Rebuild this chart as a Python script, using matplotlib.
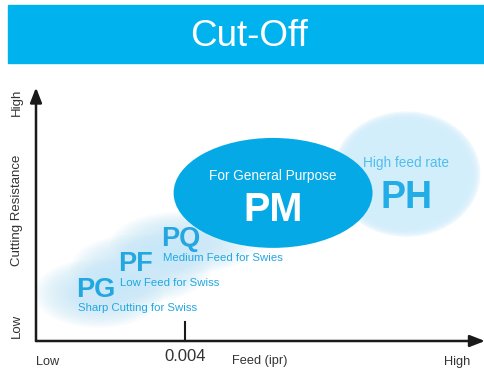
import numpy as np
import matplotlib
matplotlib.use('Agg')
import matplotlib.pyplot as plt
from matplotlib.patches import Ellipse, Rectangle

plt.rcParams['font.family'] = ['Liberation Sans', 'DejaVu Sans']

# grade regions: feed (x) / cutting resistance (y), both 0..1 on the chart
grades = ['PG', 'PF', 'PQ', 'PM', 'PH']
descs = ['Sharp Cutting for Swiss', 'Low Feed for Swiss', 'Medium Feed for Swies',
         'For General Purpose', 'High feed rate']
feed = [0.14, 0.233, 0.329, 0.528, 0.825]
resist = [0.19, 0.29, 0.39, 0.59, 0.665]
feed_span = [0.23, 0.25, 0.26, 0.443, 0.32]
resist_span = [0.22, 0.22, 0.2, 0.438, 0.485]

tick_val = 0.332
tick_label = '0.004'

BLUE = '#05a9e6'
LIGHT = '#d3eefb'
TXT = '#22a7e0'
GRAY = '#333333'

fig = plt.figure(figsize=(4.85, 3.76), dpi=100)

# title banner
fig.patches.append(Rectangle((8 / 485, 1 - 63 / 376), 1 - 8 / 485, 58 / 376,
                             transform=fig.transFigure, color='#00b3ef', zorder=0))
fig.text(0.513, 1 - 37 / 376, 'Cut-Off', color='white', fontsize=26.5,
         ha='center', va='center')

ax = fig.add_axes([36 / 485, 35 / 376, 449 / 485, 251 / 376])
ax.set_xlim(0, 1)
ax.set_ylim(0, 1)
ax.axis('off')


def fuzzy(x, y, w, h, color, n=12, a=0.22, s0=1.15, s1=0.75, z=1):
    for s in np.linspace(s0, s1, n):
        ax.add_patch(Ellipse((x, y), w * s, h * s, color=color, alpha=a,
                             lw=0, zorder=z))


# light clouds behind the small grades
for i in range(3):
    fuzzy(feed[i], resist[i], feed_span[i], resist_span[i], '#c6e8f8',
          n=16, a=0.09, s0=1.25, s1=0.45)

# PH cloud
fuzzy(feed[4], resist[4], feed_span[4], resist_span[4], LIGHT, n=8, a=0.35,
      s0=1.03, s1=0.88)
# PM solid
ax.add_patch(Ellipse((feed[3], resist[3]), feed_span[3], resist_span[3],
                     color=BLUE, lw=0, zorder=3))

# labels for small grades
for i in range(3):
    x0 = feed[i] - 0.05
    ax.text(x0, resist[i] + 0.015, grades[i], color=TXT, fontsize=19.5,
            fontweight='bold', va='center', ha='left', zorder=5)
    ax.text(x0 + 0.003, resist[i] - 0.06, descs[i], color=TXT, fontsize=8.2,
            va='center', ha='left', zorder=5)

ax.text(feed[3], resist[3] + 0.068, descs[3], color='white', fontsize=9.8,
        ha='center', va='center', zorder=5)
ax.text(feed[3], resist[3] - 0.07, grades[3], color='white', fontsize=28.5,
        fontweight='bold', ha='center', va='center', zorder=5)
ax.text(feed[4], resist[4] + 0.045, descs[4], color='#4fbeec', fontsize=9.8,
        ha='center', va='center', zorder=5)
ax.text(feed[4], resist[4] - 0.095, grades[4], color='#22ade6', fontsize=27,
        fontweight='bold', ha='center', va='center', zorder=5)

# axes arrows
arrow = dict(arrowstyle='-|>,head_length=0.9,head_width=0.35', color='#1a1a1a',
             lw=1.8, shrinkA=0, shrinkB=0)
ax.annotate('', xy=(1.0, 0), xytext=(0, 0), arrowprops=arrow,
            annotation_clip=False, zorder=6)
ax.annotate('', xy=(0, 1.01), xytext=(0, 0), arrowprops=arrow,
            annotation_clip=False, zorder=6)
ax.plot([tick_val, tick_val], [0, 0.076], color='#1a1a1a', lw=1.5,
        clip_on=False, zorder=6)

ax.text(tick_val, -0.06, tick_label, color=GRAY, fontsize=12, ha='center',
        va='center')
ax.text(0.026, -0.084, 'Low', color=GRAY, fontsize=9.2, ha='center', va='center')
ax.text(0.498, -0.078, 'Feed (ipr)', color=GRAY, fontsize=9.2, ha='center',
        va='center')
ax.text(0.937, -0.084, 'High', color=GRAY, fontsize=9.2, ha='center', va='center')

ax.text(-0.042, 0.952, 'High', color=GRAY, fontsize=9.5, rotation=90,
        ha='center', va='center')
ax.text(-0.042, 0.522, 'Cutting Resistance', color=GRAY, fontsize=9.5,
        rotation=90, ha='center', va='center')
ax.text(-0.042, 0.06, 'Low', color=GRAY, fontsize=9.5, rotation=90,
        ha='center', va='center')

fig.savefig('out.png', dpi=100)
